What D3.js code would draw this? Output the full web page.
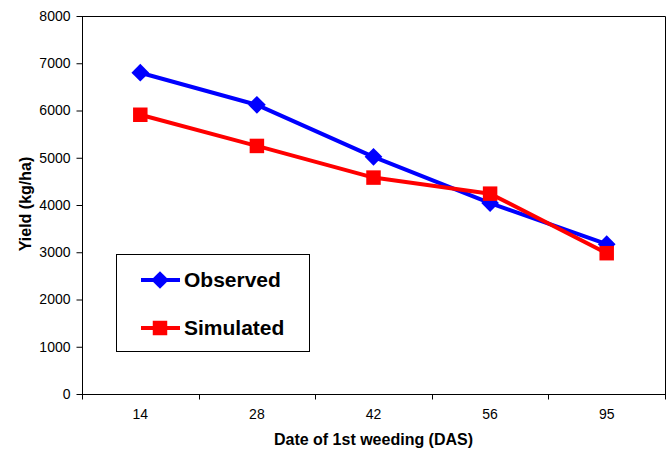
<!DOCTYPE html>
<html>
<head>
<meta charset="utf-8">
<script src="https://cdn.jsdelivr.net/npm/d3@7"></script>
<style>
  body { margin: 0; background: #fff; }
  text { font-family: "Liberation Sans", Arial, sans-serif; }
</style>
</head>
<body>
<svg width="669" height="449"></svg>
<script>
  var categories = ["14", "28", "42", "56", "95"];
  var observed = [6800, 6120, 5020, 4040, 3170];
  var simulated = [5910, 5250, 4580, 4240, 2980];
  var yTicks = [0, 1000, 2000, 3000, 4000, 5000, 6000, 7000, 8000];

  (function (d3) {
    var svg = d3.select("svg");
    var plotL = 82, plotR = 665, plotT = 16, plotB = 394;

    var x = d3.scaleBand().domain(categories).range([plotL, plotR]);
    var y = d3.scaleLinear().domain([0, 8000]).range([plotB, plotT]);

    // plot frame (top and right)
    svg.append("path")
      .attr("d", "M" + plotL + "," + (plotT + 0.5) + "H" + (plotR + 0.5) + "V" + plotB)
      .attr("fill", "none")
      .attr("stroke", "#000")
      .attr("stroke-width", 1);

    var yAxis = svg.append("g")
      .attr("transform", "translate(" + (plotL + 0.5) + ",0)")
      .call(d3.axisLeft(y).tickValues(yTicks).tickSize(6).tickPadding(6).tickFormat(d3.format("d")));
    yAxis.selectAll("text").attr("font-size", 14).attr("fill", "#000").attr("font-family", "Liberation Sans, Arial");
    yAxis.select(".domain").attr("stroke", "#000").attr("d", "M0," + plotT + "V" + (plotB + 0.5));

    var xAxis = svg.append("g")
      .attr("transform", "translate(0," + (plotB + 0.5) + ")");
    xAxis.append("line")
      .attr("x1", plotL).attr("x2", plotR + 1)
      .attr("stroke", "#000");
    var bounds = [plotL].concat(categories.map(function (c) { return x(c) + x.bandwidth(); }));
    xAxis.selectAll(".tk").data(bounds).enter().append("line")
      .attr("x1", function (d) { return Math.round(d) + 0.5; })
      .attr("x2", function (d) { return Math.round(d) + 0.5; })
      .attr("y1", 0).attr("y2", 5)
      .attr("stroke", "#000");
    xAxis.selectAll(".lbl").data(categories).enter().append("text")
      .attr("x", function (d) { return x(d) + x.bandwidth() / 2; })
      .attr("y", 24)
      .attr("text-anchor", "middle")
      .attr("font-size", 14)
      .text(function (d) { return d; });

    svg.append("text")
      .attr("x", (plotL + plotR) / 2)
      .attr("y", 445)
      .attr("text-anchor", "middle")
      .attr("font-size", 16)
      .attr("font-weight", "bold")
      .text("Date of 1st weeding (DAS)");

    svg.append("text")
      .attr("transform", "translate(31,204) rotate(-90)")
      .attr("text-anchor", "middle")
      .attr("font-size", 16)
      .attr("font-weight", "bold")
      .text("Yield (kg/ha)");

    var line = d3.line()
      .x(function (d, i) { return x(categories[i]) + x.bandwidth() / 2; })
      .y(function (d) { return y(d); });

    var diamond = d3.symbol().type(d3.symbolDiamond2).size(200);
    var square = d3.symbol().type(d3.symbolSquare).size(210);

    function drawSeries(vals, color, sym) {
      svg.append("path")
        .attr("d", line(vals))
        .attr("fill", "none")
        .attr("stroke", color)
        .attr("stroke-width", 4)
        .attr("stroke-linejoin", "round");
      svg.selectAll(null).data(vals).enter().append("path")
        .attr("d", sym)
        .attr("fill", color)
        .attr("transform", function (d, i) {
          return "translate(" + (x(categories[i]) + x.bandwidth() / 2) + "," + y(d) + ")";
        });
    }
    drawSeries(observed, "#0000ff", diamond);
    drawSeries(simulated, "#ff0000", square);

    // legend
    var lg = svg.append("g");
    lg.append("rect")
      .attr("x", 116.5).attr("y", 254.5)
      .attr("width", 193).attr("height", 97)
      .attr("fill", "#fff")
      .attr("stroke", "#000");
    var legendItems = [
      { name: "Observed", color: "#0000ff", sym: diamond, cy: 280 },
      { name: "Simulated", color: "#ff0000", sym: square, cy: 328 }
    ];
    legendItems.forEach(function (it) {
      lg.append("line")
        .attr("x1", 141).attr("x2", 180)
        .attr("y1", it.cy).attr("y2", it.cy)
        .attr("stroke", it.color).attr("stroke-width", 4);
      lg.append("path")
        .attr("d", it.sym)
        .attr("fill", it.color)
        .attr("transform", "translate(160," + it.cy + ")");
      lg.append("text")
        .attr("x", 184).attr("y", it.cy + 7)
        .attr("font-size", 21)
        .attr("font-weight", "bold")
        .text(it.name);
    });
  }(d3));
</script>
</body>
</html>
